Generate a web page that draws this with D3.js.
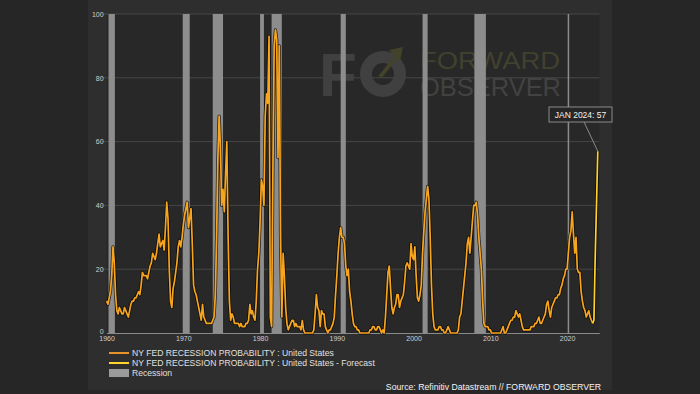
<!DOCTYPE html>
<html>
<head>
<meta charset="utf-8">
<script src="https://cdn.jsdelivr.net/npm/d3@7"></script>
<style>
html, body { margin: 0; padding: 0; background: #272727; }
svg { display: block; font-family: "Liberation Sans", Arial, sans-serif; }
</style>
</head>
<body>
<div id="chart"></div>
<script>
// bi-monthly readings (6 per year) starting Jan 1960
var startYear = 1960;
var stepsPerYear = 6;
var probability = [
    10, 9, 11, 13, 18, 27,   // 1960
    22, 12, 7, 6, 8, 7,      // 1961
    6, 6, 8, 7, 6, 5,        // 1962
    7, 9, 10, 10, 11, 11,    // 1963
    12, 13, 12, 15, 19, 18,  // 1964
    18, 18, 17, 19, 21, 22,  // 1965
    25, 24, 23, 25, 28, 31,  // 1966
    27, 28, 29, 26, 33, 41,  // 1967
    36, 20, 10, 8, 14, 16,   // 1968
    19, 22, 27, 29, 27, 30,  // 1969
    34, 37, 39, 41, 33, 36,  // 1970
    39, 28, 15, 13, 12, 10,  // 1971
    8, 6, 4, 9, 5, 4,        // 1972
    3, 3, 3, 3, 3, 4,        // 1973
    5, 12, 30, 55, 68, 58,   // 1974
    40, 45, 38, 50, 60, 30,  // 1975
    10, 4, 6, 5, 3, 3,       // 1976
    3, 3, 2, 3, 2, 2,        // 1977
    2, 3, 3, 4, 9, 6,        // 1978
    7, 5, 4, 10, 20, 25,     // 1979
    35, 48, 46, 40, 68, 75,  // 1980
    72, 93, 5, 2, 50, 90,    // 1981
    95, 92, 55, 90, 30, 5,   // 1982
    25, 18, 8, 3, 1, 2,      // 1983
    3, 4, 4, 2, 3, 2,        // 1984
    2, 2, 1, 4, 1, 0,        // 1985
    0, 0, 0, 0, 0, 0,        // 1986
    1, 6, 12, 8, 7, 2,       // 1987
    7, 6, 6, 2, 1, 0,        // 1988
    1, 1, 2, 3, 5, 12,       // 1989
    18, 25, 30, 33, 30, 30,  // 1990
    28, 21, 18, 20, 13, 10,  // 1991
    6, 3, 2, 2, 1, 1,        // 1992
    0, 0, 0, 0, 0, 0,        // 1993
    0, 0, 1, 1, 2, 2,        // 1994
    1, 1, 2, 2, 1, 0,        // 1995
    1, 0, 5, 12, 19, 21,     // 1996
    14, 8, 6, 8, 9, 12,      // 1997
    12, 8, 10, 11, 12, 16,   // 1998
    21, 22, 21, 20, 28, 24,  // 1999
    23, 27, 18, 11, 10, 12,  // 2000
    15, 25, 32, 38, 42, 46,  // 2001
    42, 30, 15, 6, 2, 1,     // 2002
    1, 1, 2, 2, 1, 1,        // 2003
    0, 0, 1, 2, 1, 0,        // 2004
    0, 0, 0, 0, 0, 1,        // 2005
    5, 6, 10, 14, 18, 22,    // 2006
    28, 30, 25, 30, 35, 40,  // 2007
    40, 41, 37, 30, 25, 20,  // 2008
    10, 3, 2, 2, 2, 1,       // 2009
    1, 0, 0, 0, 0, 0,        // 2010
    0, 0, 0, 1, 2, 0,        // 2011
    0, 1, 2, 3, 4, 4,        // 2012
    5, 5, 7, 6, 5, 6,        // 2013
    4, 2, 1, 1, 1, 1,        // 2014
    1, 1, 2, 2, 2, 3,        // 2015
    3, 4, 5, 3, 3, 4,        // 2016
    5, 6, 9, 10, 7, 5,       // 2017
    8, 9, 10, 11, 11, 12,    // 2018
    12, 14, 15, 17, 18, 20,  // 2019
    20, 25, 30, 32, 38, 31,  // 2020
    25, 30, 20, 19, 19, 13,  // 2021
    10, 8, 7, 5, 6, 7,       // 2022
    5, 4, 3                  // 2023 (to May)
];
// forecast continues from May 2023 to Jan 2024
var forecastStart = 2023 + 2 / 6;
var forecast = [3, 4, 24, 40, 57];

var recessionStart = [1960.25, 1969.92, 1973.83, 1980.0, 1981.5, 1990.5, 2001.17, 2007.92, 2020.08];
var recessionEnd   = [1961.08, 1970.83, 1975.17, 1980.5, 1982.83, 1991.17, 2001.83, 2009.42, 2020.25];

var xTicks = [1960, 1970, 1980, 1990, 2000, 2010, 2020];
var yTicks = [0, 20, 40, 60, 80, 100];

var legendLabels = [
    "NY FED RECESSION PROBABILITY : United States",
    "NY FED RECESSION PROBABILITY : United States - Forecast",
    "Recession"
];
var annotationLabel = "JAN 2024: 57";
var sourceLabel = "Source: Refinitiv Datastream // FORWARD OBSERVER";

var W = 700, H = 394;
var ORANGE = "#f7a41f", YELLOW = "#ffd22e", REC = "#8d8d8d";

var svg = d3.select("#chart").append("svg")
    .attr("width", W).attr("height", H);

svg.append("rect").attr("width", W).attr("height", H).attr("fill", "#262626");
svg.append("rect").attr("x", 88).attr("y", 0).attr("width", 524).attr("height", 390).attr("fill", "#2e2e2e");

var x = d3.scaleLinear().domain([1960, 2024.2]).range([106.6, 599.3]);
var y = d3.scaleLinear().domain([0, 100]).range([333, 14]);

svg.append("rect")
    .attr("x", x.range()[0]).attr("y", y(100))
    .attr("width", x.range()[1] - x.range()[0]).attr("height", y(0) - y(100))
    .attr("fill", "#282828");

// gridlines
svg.append("g").selectAll("line")
    .data(yTicks.slice(1))
    .enter().append("line")
    .attr("x1", 100).attr("x2", x.range()[1])
    .attr("y1", d => y(d)).attr("y2", d => y(d))
    .attr("stroke", "#464646").attr("stroke-width", 1);

// watermark
var wm = svg.append("g").attr("class", "watermark");
wm.append("text").attr("x", 319).attr("y", 96)
    .attr("font-size", 62).attr("font-weight", "bold")
    .attr("fill", "#404040").text("F");
wm.append("circle").attr("cx", 383).attr("cy", 74).attr("r", 17)
    .attr("fill", "none").attr("stroke", "#404040").attr("stroke-width", 12);
wm.append("line").attr("x1", 380).attr("y1", 77).attr("x2", 396).attr("y2", 57)
    .attr("stroke", "#43432c").attr("stroke-width", 4);
wm.append("path").attr("d", "M389,50 L403,47 L400,61 Z").attr("fill", "#43432c");
wm.append("text").attr("x", 420).attr("y", 69)
    .attr("font-size", 23).attr("textLength", 140).attr("lengthAdjust", "spacingAndGlyphs")
    .attr("fill", "#41412f").text("FORWARD");
wm.append("text").attr("x", 420).attr("y", 96)
    .attr("font-size", 25).attr("textLength", 141).attr("lengthAdjust", "spacingAndGlyphs")
    .attr("fill", "#424242").text("OBSERVER");

// recession bars
svg.append("g").selectAll("rect")
    .data(recessionStart)
    .enter().append("rect")
    .attr("x", d => x(d))
    .attr("y", y(100))
    .attr("width", (d, i) => Math.max(1.5, x(recessionEnd[i]) - x(d)))
    .attr("height", y(0) - y(100))
    .attr("fill", REC);

// axes
var yAxis = svg.append("g").attr("transform", "translate(" + x.range()[0] + ",0)")
    .call(d3.axisLeft(y).tickValues(yTicks).tickSize(0).tickPadding(3));
yAxis.select(".domain").remove();
yAxis.selectAll(".tick").filter(d => d === 0).select("text").attr("dy", "0.1em");
var xAxis = svg.append("g").attr("transform", "translate(0," + y(0) + ")")
    .call(d3.axisBottom(x).tickValues(xTicks).tickFormat(d3.format("d")).tickSize(0).tickPadding(3));
xAxis.select(".domain").attr("stroke", "#8a8a8a").attr("stroke-width", 1.2);
svg.selectAll(".tick text").attr("fill", "#d0d0d0").attr("font-size", 7)
    .attr("font-family", "'Liberation Sans', Arial, sans-serif");

// series
var actualPoints = probability.map((v, i) => ({ t: startYear + i / stepsPerYear, v: v }));
var forecastPoints = forecast.map((v, i) => ({ t: forecastStart + i / stepsPerYear, v: v }));
var seriesList = [[actualPoints, ORANGE], [forecastPoints, YELLOW]];

var line = d3.line().x(d => x(d.t)).y(d => y(d.v));

seriesList.forEach(function (s) {
    svg.append("path").datum(s[0]).attr("d", line)
        .attr("fill", "none").attr("stroke", "#000").attr("stroke-opacity", 0.75)
        .attr("stroke-width", 3.2).attr("stroke-linejoin", "round");
});
seriesList.forEach(function (s) {
    svg.append("path").datum(s[0]).attr("d", line)
        .attr("fill", "none").attr("stroke", s[1])
        .attr("stroke-width", 1.7).attr("stroke-linejoin", "round");
});

// annotation
var last = forecastPoints[forecastPoints.length - 1];
svg.append("line")
    .attr("x1", 584).attr("y1", 122)
    .attr("x2", x(last.t)).attr("y2", y(last.v))
    .attr("stroke", "#8a8a8a").attr("stroke-width", 1);
svg.append("rect").attr("x", 549).attr("y", 107).attr("width", 63).attr("height", 15)
    .attr("fill", "#262626").attr("stroke", "#8a8a8a").attr("stroke-width", 1);
svg.append("text").attr("x", 580.5).attr("y", 117.5).attr("text-anchor", "middle")
    .attr("font-size", 8.5).attr("fill", "#f2f2f2").text(annotationLabel);

// legend
var legend = svg.append("g").attr("transform", "translate(109,0)");
var legendY = [353, 363, 373];
legend.append("line").attr("x1", 0).attr("x2", 20).attr("y1", legendY[0]).attr("y2", legendY[0])
    .attr("stroke", "#e8922a").attr("stroke-width", 2);
legend.append("line").attr("x1", 0).attr("x2", 20).attr("y1", legendY[1]).attr("y2", legendY[1])
    .attr("stroke", YELLOW).attr("stroke-width", 2);
legend.append("rect").attr("x", 0).attr("y", legendY[2] - 4).attr("width", 20).attr("height", 8)
    .attr("fill", "#9a9a9a");
legend.selectAll("text.lbl").data(legendLabels).enter().append("text")
    .attr("class", "lbl")
    .attr("x", 23).attr("y", (d, i) => legendY[i] + 3)
    .attr("font-size", 8.6).attr("fill", "#e0e0e0").text(d => d);

svg.append("text").attr("x", 601).attr("y", 390).attr("text-anchor", "end")
    .attr("font-size", 8.7).attr("fill", "#f2f2f2").text(sourceLabel);
</script>
</body>
</html>
